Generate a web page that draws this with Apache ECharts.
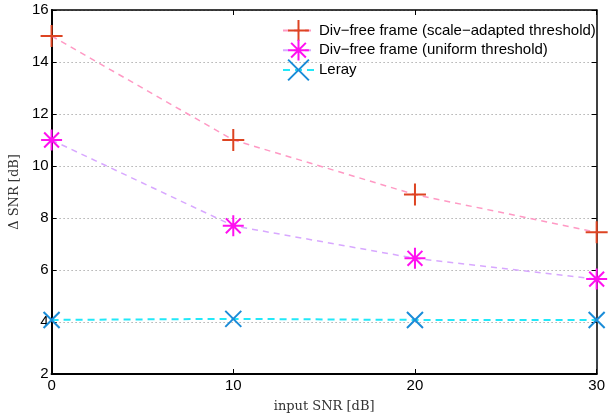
<!DOCTYPE html>
<html>
<head>
<meta charset="utf-8">
<script src="https://cdn.jsdelivr.net/npm/echarts@6/dist/echarts.min.js"></script>
<style>
html,body{margin:0;padding:0;background:#fff;}
#chart{width:608px;height:420px;}
</style>
</head>
<body>
<div id="chart"></div>
<script>
var inputSNR = [0, 10, 20, 30];
var scaleAdapted = [15.0, 11.0, 8.9, 7.45];
var uniformThr = [11.0, 7.7, 6.45, 5.65];
var leray = [4.08, 4.12, 4.08, 4.08];
var seriesNames = ['Div\u2212free frame (scale\u2212adapted threshold)', 'Div\u2212free frame (uniform threshold)', 'Leray'];
var yTicks = [2, 4, 6, 8, 10, 12, 14, 16];
var xTicks = [0, 10, 20, 30];

function pairs(xs, ys) { return xs.map(function (x, i) { return [x, ys[i]]; }); }

var PLUS = 'path://M0,10L20,10M10,0L10,20';
var STAR = 'path://M10,0L10,20M0,10L20,10M2.93,2.93L17.07,17.07M17.07,2.93L2.93,17.07';
var CROSS = 'path://M0,0L20,20M20,0L0,20';

var chart = echarts.init(document.getElementById('chart'), null, {renderer: 'canvas'});
var font = 'Liberation Sans, Arial, Helvetica, sans-serif';
var serif = 'DejaVu Serif, Liberation Serif, serif';

function mkSeries(name, data, symbol, size, markColor, lineColor, dash, lw) {
  return {
    name: name, type: 'line', data: data, clip: false,
    symbol: symbol, symbolSize: size, showSymbol: true,
    itemStyle: {color: 'rgba(0,0,0,0)', borderColor: markColor, borderWidth: 2},
    lineStyle: {color: lineColor, width: lw, type: dash},
    emphasis: {disabled: true},
    z: 3
  };
}

chart.setOption({
  animation: false,
  grid: {left: 50, right: 7, top: 10, bottom: 46, show: false},
  legend: {
    orient: 'vertical', left: 282, top: 19, padding: 0,
    itemWidth: 31, itemHeight: 26, itemGap: -3, align: 'left',
    textStyle: {fontFamily: font, fontSize: 15, color: '#000'},
    data: seriesNames
  },
  xAxis: [{
    type: 'value', min: 0, max: 30, interval: 10, position: 'bottom',
    name: 'input SNR [dB]', nameLocation: 'middle', nameGap: 26,
    nameTextStyle: {fontFamily: serif, fontSize: 13, color: '#333'},
    axisLine: {show: true, onZero: false, lineStyle: {color: '#000', width: 2}},
    axisTick: {show: true, inside: true, length: 5, lineStyle: {color: '#000', width: 1}},
    axisLabel: {fontFamily: font, fontSize: 15, color: '#000', margin: 4,
      formatter: function (v) { return xTicks.indexOf(v) >= 0 ? String(v) : ''; }},
    splitLine: {show: false}
  }, {
    type: 'value', min: 0, max: 30, interval: 10, position: 'top',
    axisLine: {show: true, onZero: false, lineStyle: {color: '#000', width: 1.5}},
    axisTick: {show: true, inside: true, length: 5, lineStyle: {color: '#000', width: 1}},
    axisLabel: {show: false}, splitLine: {show: false}
  }],
  yAxis: [{
    type: 'value', min: 2, max: 16, interval: 2, position: 'left',
    name: '\u0394 SNR [dB]', nameLocation: 'middle', nameGap: 25, nameRotate: 90,
    nameTextStyle: {fontFamily: serif, fontSize: 13, color: '#333'},
    axisLine: {show: true, onZero: false, lineStyle: {color: '#000', width: 2}},
    axisTick: {show: true, inside: true, length: 5, lineStyle: {color: '#000', width: 1}},
    axisLabel: {fontFamily: font, fontSize: 15, color: '#000', margin: 3,
      formatter: function (v) { return yTicks.indexOf(v) >= 0 ? String(v) : ''; }},
    splitLine: {show: true, lineStyle: {color: '#8a8a8a', width: 1, type: [1, 3]}}
  }, {
    type: 'value', min: 2, max: 16, interval: 2, position: 'right',
    axisLine: {show: true, onZero: false, lineStyle: {color: '#000', width: 1.5}},
    axisTick: {show: true, inside: true, length: 5, lineStyle: {color: '#000', width: 1}},
    axisLabel: {show: false}, splitLine: {show: false}
  }],
  series: [
    mkSeries(seriesNames[0], pairs(inputSNR, scaleAdapted), PLUS, 22, '#DD4422', '#FF99C4', [6, 5], 1.5),
    mkSeries(seriesNames[1], pairs(inputSNR, uniformThr), STAR, 21, '#FF10F0', '#D8A8FF', [6, 5], 1.5),
    mkSeries(seriesNames[2], pairs(inputSNR, leray), CROSS, 16, '#1A8CD8', '#22E8F8', [7, 5], 2)
  ]
});
</script>
</body>
</html>
